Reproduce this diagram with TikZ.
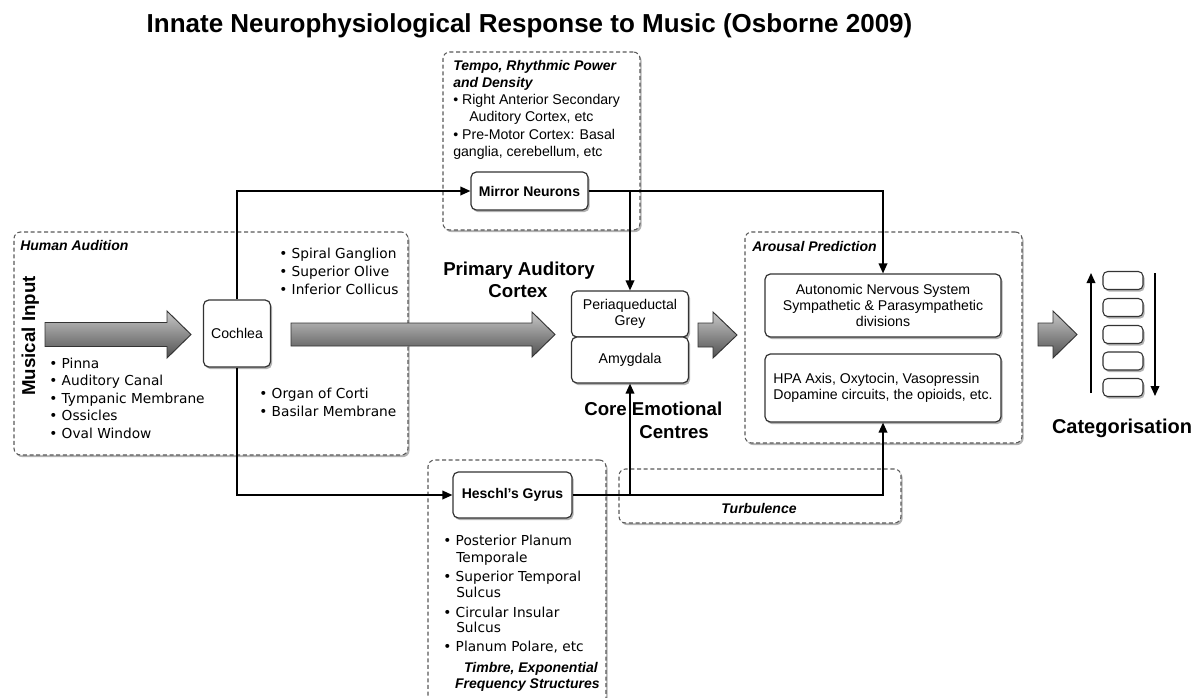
\documentclass[tikz,border=0pt]{standalone}
\usepackage{fontspec}
\setmainfont{Liberation Sans}
\newfontfamily\luc{DejaVu Sans}
\usetikzlibrary{arrows.meta,shadows}
\definecolor{arrtop}{HTML}{C8C8C8}
\definecolor{arrbot}{HTML}{505050}
\definecolor{edge}{HTML}{333333}
\newcommand\pxl[1]{#1*0.75pt}
\tikzset{
 shad/.style={drop shadow={shadow xshift=1.2pt,shadow yshift=-1.6pt,opacity=0.3,fill=black}},
 box/.style={draw=edge, line width=0.9pt, rounded corners=4pt, fill=white, shad, inner sep=2pt, align=center, font=\fontsize{10.6}{12}\selectfont},
 catbox/.style={draw=edge, line width=0.8pt, rounded corners=3.5pt, fill=white, shad, inner sep=0pt, minimum width=\pxl{40}, minimum height=\pxl{18}},
 grp/.style={draw=black!65, line width=0.8pt, dash pattern=on 3pt off 2pt, rounded corners=5pt, fill=white, shad, inner sep=0pt},
 conn/.style={line width=1.1pt, -{Triangle[length=7.5pt,width=6.5pt]}},
 blk/.style={draw=edge, line width=0.7pt, top color=arrtop, bottom color=arrbot},
 txt/.style={inner sep=0pt, anchor=base west, font=\fontsize{10.6}{12.5}\selectfont},
 ltxt/.style={inner sep=0pt, anchor=base west, font={\luc\fontsize{10.3}{13}\selectfont}},
 gtitle/.style={inner sep=0pt, anchor=base west, font=\bfseries\itshape\fontsize{10.5}{12.5}\selectfont},
 big/.style={inner sep=0pt, font=\bfseries\fontsize{14}{16}\selectfont},
}
\begin{document}
\begin{tikzpicture}[x=0.75pt,y=-0.75pt]
\useasboundingbox (0,0) rectangle (1200,697);
% title
\node[inner sep=0pt, anchor=base, font=\bfseries\fontsize{19.5}{22}\selectfont] (title) at (529.5,32) {Innate Neurophysiological Response to Music (Osborne 2009)};
% group boxes
\node[grp, minimum width=\pxl{394}, minimum height=\pxl{223}] (gha) at (211,343.5) {};
\node[grp, minimum width=\pxl{197}, minimum height=\pxl{178}] (gtempo) at (541.5,141) {};
\node[grp, minimum width=\pxl{277}, minimum height=\pxl{211}] (garousal) at (883.5,337.5) {};
\node[grp, minimum width=\pxl{282}, minimum height=\pxl{54}] (gturb) at (760,496) {};
\node[grp, minimum width=\pxl{178}, minimum height=\pxl{250}] (gtimbre) at (517,585) {};
% block arrows
\path[blk] (45,322.5) -- (167,322.5) -- (167,311) -- (191,334.5) -- (167,358) -- (167,346.5) -- (45,346.5) -- cycle;
\path[blk] (291,323) -- (532,323) -- (532,312) -- (555,334.5) -- (532,357) -- (532,346) -- (291,346) -- cycle;
\path[blk] (698,323) -- (713,323) -- (713,312) -- (737,335) -- (713,358) -- (713,347) -- (698,347) -- cycle;
\path[blk] (1038,323) -- (1053,323) -- (1053,311) -- (1077,334.5) -- (1053,358) -- (1053,346) -- (1038,346) -- cycle;
% main nodes
\node[box, minimum width=\pxl{117}, minimum height=\pxl{38}, font=\bfseries\fontsize{10.5}{12}\selectfont] (mirror) at (529.5,191) {Mirror Neurons};
\node[box, minimum width=\pxl{67}, minimum height=\pxl{67}] (cochlea) at (237,333.5) {Cochlea};
\node[box, minimum width=\pxl{117}, minimum height=\pxl{46}] (pag) at (630,314) {Periaqueductal\\Grey};
\node[box, minimum width=\pxl{117}, minimum height=\pxl{46}] (amyg) at (630,360) {Amygdala};
\node[box, minimum width=\pxl{236}, minimum height=\pxl{63}] (ans) at (883,305.5) {Autonomic Nervous System\\Sympathetic \& Parasympathetic\\divisions};
\node[box, align=left, minimum width=\pxl{236}, minimum height=\pxl{68}] (hpa) at (883,388) {HPA Axis, Oxytocin, Vasopressin\\Dopamine circuits, the opioids, etc.};
\node[box, minimum width=\pxl{119}, minimum height=\pxl{46}, font=\bfseries\fontsize{10.5}{12}\selectfont] (heschl) at (512.5,495) {Heschl's Gyrus};
\foreach \yy [count=\i] in {280.5,307.5,334.5,361,387.5}
  \node[catbox] (c\i) at (1123,\yy) {};
% connectors
\draw[conn] (cochlea.north) |- (mirror.west);
\draw[conn] (cochlea.south) |- (heschl.west);
\draw[conn] (mirror.east) -| (ans.north);
\draw[conn] (mirror.east -| pag.north) -- (pag.north);
\draw[conn] (heschl.east) -| (hpa.south);
\draw[conn] (heschl.east -| amyg.south) -- (amyg.south);
\coordinate (upS) at (1091,393);
\coordinate (upE) at (1091,273);
\coordinate (dnS) at (1155,273);
\coordinate (dnE) at (1155,396);
\draw[conn] (upS) -- (upE);
\draw[conn] (dnS) -- (dnE);
% Human Audition texts
\node[gtitle] (hat) at (20,250) {Human Audition};
\node[big, rotate=90, anchor=base] (musin) at (35,336) {Musical Input};
\node[ltxt] (la1) at (49,368) {• Pinna};
\node[ltxt] (la2) at (49,385.5) {• Auditory Canal};
\node[ltxt] (la3) at (49,403) {• Tympanic Membrane};
\node[ltxt] (la4) at (49,420.5) {• Ossicles};
\node[ltxt] (la5) at (49,438) {• Oval Window};
\node[ltxt] (lb1) at (279,258) {• Spiral Ganglion};
\node[ltxt] (lb2) at (279,276) {• Superior Olive};
\node[ltxt] (lb3) at (279,294) {• Inferior Collicus};
\node[ltxt] (lc1) at (259,398) {• Organ of Corti};
\node[ltxt] (lc2) at (259,416) {• Basilar Membrane};
% Tempo box texts
\node[gtitle] (tt1) at (453,70) {Tempo, Rhythmic Power};
\node[gtitle] (tt2) at (453,87) {and Density};
\node[txt] (tl1) at (453,104) {• Right Anterior Secondary};
\node[txt] (tl2) at (469,121) {Auditory Cortex, etc};
\node[txt] (tl3) at (453,139) {• Pre-Motor Cortex: Basal};
\node[txt] (tl4) at (453,156) {ganglia, cerebellum, etc};
% Timbre box texts
\node[ltxt] (hl1) at (443,545) {• Posterior Planum};
\node[ltxt] (hl2) at (456,562) {Temporale};
\node[ltxt] (hl3) at (443,581) {• Superior Temporal};
\node[ltxt] (hl4) at (456,597) {Sulcus};
\node[ltxt] (hl5) at (443,617) {• Circular Insular};
\node[ltxt] (hl6) at (456,632) {Sulcus};
\node[ltxt] (hl7) at (443,651) {• Planum Polare, etc};
\node[gtitle, anchor=base east] (ht1) at (598,672) {Timbre, Exponential};
\node[gtitle, anchor=base east] (ht2) at (600,688) {Frequency Structures};
% other labels
\node[gtitle] (art) at (752,251) {Arousal Prediction};
\node[gtitle, anchor=base] (turb) at (759,513) {Turbulence};
\node[big, anchor=base] (pac1) at (519,275) {Primary Auditory};
\node[big, anchor=base] (pac2) at (518,297) {Cortex};
\node[big, anchor=base west] (cec1) at (584,415) {Core Emotional};
\node[big, anchor=base west] (cec2) at (639,438) {Centres};
\node[big, anchor=base, font=\bfseries\fontsize{15}{17}\selectfont] (cat) at (1122,433) {Categorisation};
\end{tikzpicture}
\end{document}
